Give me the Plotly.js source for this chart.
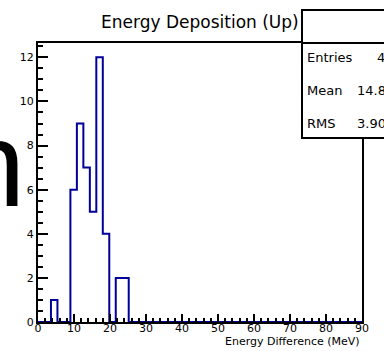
<!DOCTYPE html>
<html>
<head>
<meta charset="utf-8">
<script src="https://cdn.plot.ly/plotly-3.0.1.min.js"></script>
<style>html,body{margin:0;padding:0;background:#fff;}#chart{width:384px;height:351px;}</style>
</head>
<body>
<div id="chart"></div>
<script>
// Histogram: 50 bins from 0 to 90 MeV (bin width 1.8)
const xMin = 0, xMax = 90, nBins = 50;
const counts = [0,0,1,0,0,6,9,7,5,12,4,0,2,2,0,0,0,0,0,0,
                0,0,0,0,0,0,0,0,0,0,0,0,0,0,0,0,0,0,0,0,
                0,0,0,0,0,0,0,0,0,0];
const statLabels = ["Entries", "Mean", "RMS"];
const statValues = ["48", "14.86", "3.904"];
const titleText = "Energy Deposition (Up)";
const xTitle = "Energy Difference (MeV)";
const bigGlyph = "n";

const bw = (xMax - xMin) / nBins;
const edges = [], ys = [];
for (let i = 0; i <= nBins; i++) {
  edges.push(xMin + i * bw);
  ys.push(i < nBins ? counts[i] : counts[nBins - 1]);
}

// pixel -> paper helpers (plot area 38..362 x, 43..322 y)
const L = 38, R = 362, T = 43, B = 322;
const px = X => (X - L) / (R - L);
const py = Y => (B - Y) / (B - T);

const font = "DejaVu Sans";
const annotations = [
  {text: titleText, xref: "paper", yref: "paper", x: px(200), y: py(21.5),
   xanchor: "center", yanchor: "middle", showarrow: false,
   font: {family: font, size: 17, color: "#000"}},
  {text: xTitle, xref: "paper", yref: "paper", x: px(362), y: py(341),
   xanchor: "right", yanchor: "middle", showarrow: false,
   font: {family: font, size: 11, color: "#000"}},
  {text: bigGlyph, xref: "paper", yref: "paper", x: px(27), y: py(164),
   xanchor: "right", yanchor: "middle", showarrow: false,
   font: {family: "Liberation Sans", size: 121, color: "#000"}}
];
const rowsY = [58, 91, 123];
statLabels.forEach((s, i) => {
  annotations.push({text: s, xref: "paper", yref: "paper", x: px(305), y: py(rowsY[i]),
    xanchor: "left", yanchor: "middle", showarrow: false,
    font: {family: font, size: 13, color: "#000"}});
  annotations.push({text: statValues[i], xref: "paper", yref: "paper", x: px(396), y: py(rowsY[i]),
    xanchor: "right", yanchor: "middle", showarrow: false,
    font: {family: font, size: 13, color: "#000"}});
});

const shapes = [
  {type: "rect", xref: "paper", yref: "paper", x0: px(302), x1: px(440), y0: py(138), y1: py(10),
   line: {color: "#000", width: 2}, fillcolor: "#fff", layer: "above"},
  {type: "line", xref: "paper", yref: "paper", x0: px(302), x1: px(440), y0: py(43), y1: py(43),
   line: {color: "#000", width: 2}, layer: "above"}
];

const trace = {
  type: "scatter", mode: "lines", x: edges, y: ys,
  line: {shape: "hv", color: "#000099", width: 2},
  hoverinfo: "skip"
};
// invisible carrier trace for the minor-tick axes
const minorTrace = {
  type: "scatter", mode: "none", x: [xMin, xMax], y: [0, 0],
  xaxis: "x2", yaxis: "y2", hoverinfo: "skip"
};

const axisCommon = {
  showgrid: false, zeroline: false, showline: true, mirror: true,
  linecolor: "#000", linewidth: 2, ticks: "inside", tickcolor: "#000",
  tickwidth: 2, tickfont: {family: font, size: 11, color: "#000"}
};
const minorCommon = {
  showgrid: false, zeroline: false, showline: false, ticks: "inside",
  tickcolor: "#000", tickwidth: 2, showticklabels: false
};

const layout = {
  width: 384, height: 351,
  margin: {l: L, r: 384 - R, t: T, b: 351 - B, pad: 0},
  paper_bgcolor: "#fff", plot_bgcolor: "#fff",
  showlegend: false,
  xaxis: Object.assign({}, axisCommon, {
    range: [xMin, xMax], dtick: 10, tick0: 0, ticklen: 8, ticklabelstandoff: -5
  }),
  yaxis: Object.assign({}, axisCommon, {
    range: [0, 12.65], dtick: 2, tick0: 0, ticklen: 10
  }),
  xaxis2: Object.assign({}, minorCommon, {
    overlaying: "x", anchor: "y2", side: "bottom", range: [xMin, xMax], dtick: 2, tick0: 0, ticklen: 4
  }),
  yaxis2: Object.assign({}, minorCommon, {
    overlaying: "y", anchor: "x2", side: "left", range: [0, 12.65], dtick: 0.5, tick0: 0, ticklen: 5
  }),
  annotations: annotations,
  shapes: shapes
};

Plotly.newPlot("chart", [trace, minorTrace], layout, {displayModeBar: false, staticPlot: true});
</script>
</body>
</html>
